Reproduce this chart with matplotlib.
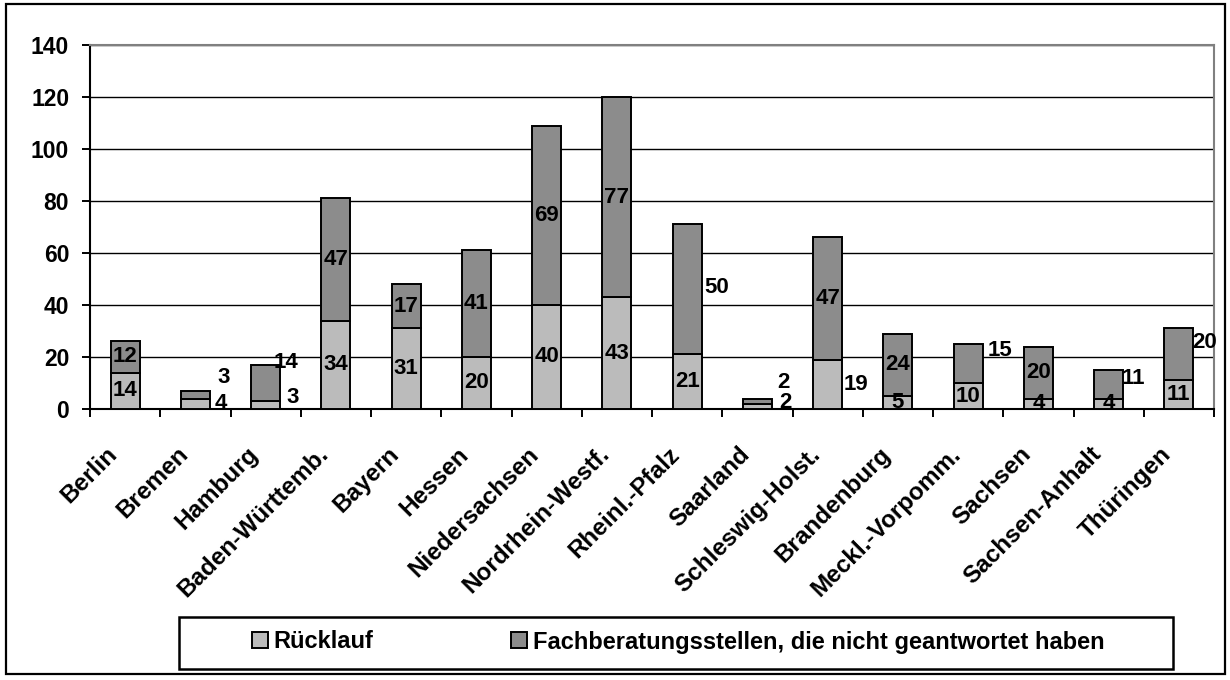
import numpy as np
import matplotlib
matplotlib.use("Agg")
import matplotlib.pyplot as plt
from matplotlib.patches import Patch, Rectangle
from matplotlib.transforms import ScaledTranslation

# Data
laender = ['Berlin', 'Bremen', 'Hamburg', 'Baden-Württemb.', 'Bayern', 'Hessen',
           'Niedersachsen', 'Nordrhein-Westf.', 'Rheinl.-Pfalz', 'Saarland',
           'Schleswig-Holst.', 'Brandenburg', 'Meckl.-Vorpomm.', 'Sachsen',
           'Sachsen-Anhalt', 'Thüringen']
ruecklauf = [14, 4, 3, 34, 31, 20, 40, 43, 21, 2, 19, 5, 10, 4, 4, 11]
nicht_geantwortet = [12, 3, 14, 47, 17, 41, 69, 77, 50, 2, 47, 24, 15, 20, 11, 20]
series_names = ['Rücklauf', 'Fachberatungsstellen, die nicht geantwortet haben']
y_ticks = [0, 20, 40, 60, 80, 100, 120, 140]

# Label nudges in pixels (dx right, dy down), keyed by (series, index)
label_nudge = {
    (0, 1): (25, 0), (1, 1): (28, -17),
    (0, 2): (27, -8), (1, 2): (20, -20),
    (1, 8): (30, -2),
    (0, 9): (28, -4), (1, 9): (26, -19),
    (0, 10): (28, 0),
    (1, 12): (32, -13),
    (1, 14): (25, -6),
    (1, 15): (26, -12),
}

LIGHT = '#BBBBBB'
DARK = '#8C8C8C'
W, H = 1230, 680

plt.rcParams['font.family'] = ['Liberation Sans', 'DejaVu Sans']
plt.rcParams['font.weight'] = 'bold'

fig = plt.figure(figsize=(W / 100, H / 100), dpi=100)
ax = fig.add_axes([90 / W, 1 - 409 / H, (1214 - 90) / W, (409 - 45) / H])

x = np.arange(len(laender))
bar_w = 0.41
ax.bar(x, ruecklauf, bar_w, color=LIGHT, edgecolor='black', linewidth=1.4, zorder=3)
ax.bar(x, nicht_geantwortet, bar_w, bottom=ruecklauf, color=DARK,
       edgecolor='black', linewidth=1.4, zorder=3)

# value labels in the middle of each segment
for s, (vals, base) in enumerate([(ruecklauf, [0] * len(x)),
                                  (nicht_geantwortet, ruecklauf)]):
    for i, v in enumerate(vals):
        dx, dy = label_nudge.get((s, i), (0, 0))
        ax.annotate(str(v), xy=(i, base[i] + v / 2), xytext=(dx * 0.72, -dy * 0.72),
                    textcoords='offset points', ha='center', va='center',
                    fontsize=16, fontweight='bold', zorder=4)

ax.set_xlim(-0.5, len(x) - 0.5)
ax.set_ylim(0, 140)
ax.set_yticks(y_ticks)
ax.set_yticklabels([str(t) for t in y_ticks], fontsize=16.5, fontweight='bold')
ax.yaxis.grid(True, color='black', linewidth=1.0, zorder=0)
ax.set_axisbelow(True)

ax.set_xticks(np.arange(len(x) + 1) - 0.5)
ax.set_xticklabels([])
ax.set_xticks(x, minor=True)
ax.set_xticklabels(laender, minor=True, rotation=45, ha='right', va='center',
                   rotation_mode='anchor', fontsize=17.5, fontweight='bold')
ax.tick_params(axis='x', which='major', length=6, width=1.4, color='black')
ax.tick_params(axis='x', which='minor', length=0, pad=30)
ax.tick_params(axis='y', length=6, width=1.4, pad=9)
shift = ScaledTranslation(-11 / 100, 0, fig.dpi_scale_trans)
for lab in ax.get_xticklabels(minor=True):
    lab.set_transform(lab.get_transform() + shift)

for side in ['left', 'bottom']:
    ax.spines[side].set_color('black')
    ax.spines[side].set_linewidth(1.5)
for side in ['top', 'right']:
    ax.spines[side].set_color('#808080')
    ax.spines[side].set_linewidth(1.5)

# outer chart frame
fig.patches.append(Rectangle((6 / W, 1 - 674 / H), 1219 / W, 670 / H,
                             transform=fig.transFigure, fill=False,
                             edgecolor='black', linewidth=1.6))

# legend box
fig.patches.append(Rectangle((179 / W, 1 - 669 / H), (1173 - 179) / W, 52 / H,
                             transform=fig.transFigure, fill=False,
                             edgecolor='black', linewidth=1.8))
handles = [Patch(facecolor=LIGHT, edgecolor='black', linewidth=1.4),
           Patch(facecolor=DARK, edgecolor='black', linewidth=1.4)]
fig.legend(handles, series_names, ncol=2, loc='center',
           bbox_to_anchor=(678 / W, 1 - 642 / H), frameon=False,
           prop={'size': 17, 'weight': 'bold'}, handlelength=0.68,
           handleheight=0.68, handletextpad=0.25, columnspacing=5.8)

fig.savefig('out.png', dpi=100)
